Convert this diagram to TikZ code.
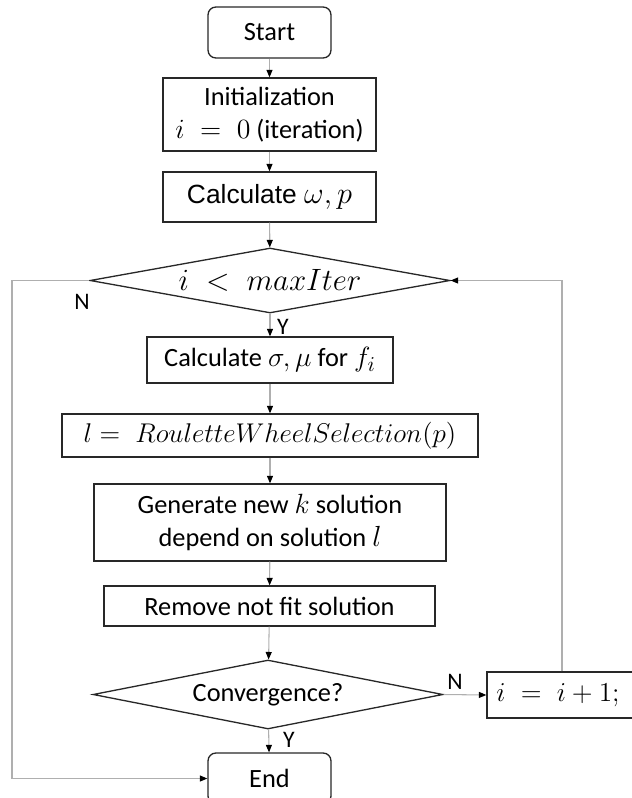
\documentclass[tikz,border=0pt]{standalone}
\usepackage{graphicx}
\usepackage{fontspec}
\setmainfont{Carlito}
\newfontfamily\arialfont{Liberation Sans}
\usetikzlibrary{shapes.geometric,arrows.meta}
\definecolor{flowgray}{RGB}{175,175,175}
\definecolor{boxedge}{RGB}{40,40,40}
\newcommand{\mth}[2][1.1]{\scalebox{#1}{$#2$}}

\begin{document}
\begin{tikzpicture}[x=0.02cm,y=-0.02cm,
  every node/.style={font=\fontsize{15}{19}\selectfont},
  procbox/.style={draw=boxedge,line width=0.75pt,inner sep=0pt,align=center},
  termbox/.style={procbox,rounded corners=4.5pt,minimum width=2.46cm,minimum height=1.02cm},
  decision/.style={draw=boxedge,line width=0.75pt,diamond,aspect=5.5,inner sep=0pt},
  flow/.style={draw=flowgray,line width=0.6pt,-{Triangle[color=black,length=1.5mm,width=1.2mm]}},
  lbl/.style={font=\fontsize{13.5}{16}\selectfont,inner sep=0pt}]
  \useasboundingbox (0,0) rectangle (632,798);

  % main column
  \node[termbox] (start) at (269.5,32.5) {Start};
  \node[procbox,minimum width=4.26cm,minimum height=1.46cm] (init) at (269.5,114.5)
    {Initialization\\\mth{i\;=\;0} (iteration)};
  \node[procbox,minimum width=4.26cm,minimum height=1.0cm] (calcw) at (269.5,197)
    {\arialfont Calculate \mth[1.2]{\omega,p}};
  \node[decision,minimum width=7.2cm,minimum height=1.3cm] (cond) at (270,280.5)
    {\mth[1.22]{i\;<\;maxIter}};
  \node[procbox,minimum width=4.92cm,minimum height=0.92cm] (calcs) at (270,360)
    {Calculate \mth{\sigma,\mu} for \mth{f_i}};
  \node[procbox,minimum width=8.32cm,minimum height=0.86cm] (rws) at (270,435.5)
    {\mth[1.07]{l=\;RouletteWheelSelection(p)}};
  \node[procbox,minimum width=7.04cm,minimum height=1.54cm] (gen) at (270,522.5)
    {Generate new \mth{k} solution\\depend on solution \mth[1.15]{l}};
  \node[procbox,minimum width=6.62cm,minimum height=0.8cm] (remove) at (269.5,606)
    {Remove not fit solution};
  \node[decision,minimum width=7.0cm,minimum height=1.38cm] (conv) at (268,694.5)
    {Convergence?};
  \node[procbox,minimum width=3.0cm,minimum height=0.92cm] (incr) at (562,695)
    {\mth[1.08]{i\;=\;i+1;}\hspace{0.3em}};
  \node[termbox] (stop) at (269.5,778.5) {End};

  \coordinate (lft) at (12,0);

  \draw[flow] (start) -- (init);
  \draw[flow] (init) -- (calcw);
  \draw[flow] (calcw) -- (cond);
  \draw[flow] (cond) -- (calcs);
  \draw[flow] (calcs) -- (rws);
  \draw[flow] (rws) -- (gen);
  \draw[flow] (gen) -- (remove);
  \draw[flow] (remove) -- (conv);
  \draw[flow] (conv) -- (stop);
  \draw[flow] (conv.east) -- (incr.west);
  \draw[flow] (incr.north) |- (cond.east);
  \draw[flow] (cond.west) -- (lft |- cond.west) |- (stop.west);

  \node[lbl] (n1) at (82,302) {N};
  \node[lbl] (y1) at (283,327) {Y};
  \node[lbl] (n2) at (455,682) {N};
  \node[lbl] (y2) at (289,740) {Y};
\end{tikzpicture}
\end{document}
